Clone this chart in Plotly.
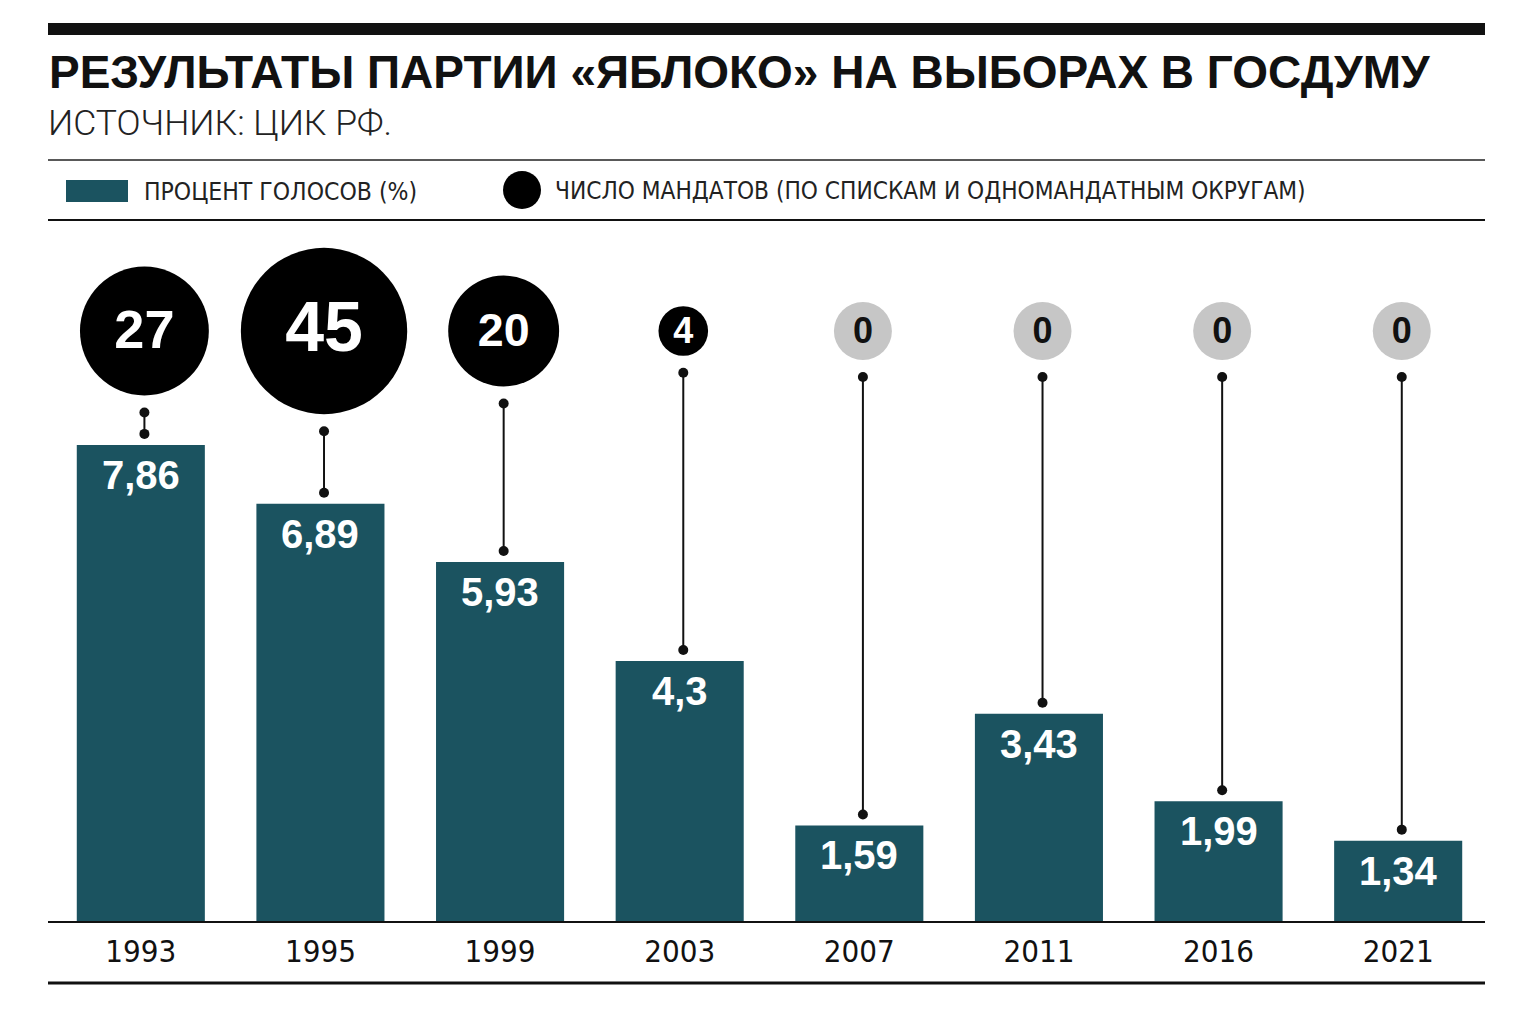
import math
import plotly.graph_objects as go

# Data
years = ["1993", "1995", "1999", "2003", "2007", "2011", "2016", "2021"]
vote_share = [7.86, 6.89, 5.93, 4.3, 1.59, 3.43, 1.99, 1.34]
seats = [27, 45, 20, 4, 0, 0, 0, 0]

title_text = "РЕЗУЛЬТАТЫ ПАРТИИ «ЯБЛОКО» НА ВЫБОРАХ В ГОСДУМУ"
source_text = "ИСТОЧНИК: ЦИК РФ."
legend_bar_text = "ПРОЦЕНТ ГОЛОСОВ (%)"
legend_dot_text = "ЧИСЛО МАНДАТОВ (ПО СПИСКАМ И ОДНОМАНДАТНЫМ ОКРУГАМ)"

# Style
W, H = 1535, 1024
BAR_COLOR = "#1b5360"
GREY = "#c6c6c6"
BOLD = "Liberation Sans, Arial, sans-serif"
NARROW = "Liberation Sans Narrow, DejaVu Sans Condensed, Roboto, sans-serif"
LIGHT = "Roboto, Liberation Sans, sans-serif"

M_L, M_R, M_T, M_B = 51, 47, 230, 102
PX_PER_UNIT = 60.7
plot_h = H - M_T - M_B
plot_w = W - M_L - M_R
y_max = plot_h / PX_PER_UNIT


def py(ypx):
    # pixel row -> paper y
    return (H - M_B - ypx) / plot_h


def px(xpx):
    # pixel column -> paper x
    return (xpx - M_L) / plot_w


def du(pixels):
    # pixels -> data units on y
    return pixels / PX_PER_UNIT


circle_y = du(H - M_B - 331)
x_pos = list(range(len(years)))
circle_dx = 0.02

sizes = [24.8 * math.sqrt(s) if s > 0 else 58 for s in seats]
circle_colors = ["#000000" if s > 0 else GREY for s in seats]
text_colors = ["#ffffff" if s > 0 else "#111111" for s in seats]
text_sizes = [max(36, 0.42 * d) for d in sizes]

fig = go.Figure()

# bars
fig.add_trace(go.Bar(
    x=x_pos, y=vote_share, width=0.713,
    marker=dict(color=BAR_COLOR, line=dict(width=0)),
    hoverinfo="skip", showlegend=False,
))

# connectors between circle and bar
for i, (v, d) in enumerate(zip(vote_share, sizes)):
    top = circle_y - du(d / 2 + 17)
    bottom = v + du(11)
    fig.add_trace(go.Scatter(
        x=[i + circle_dx, i + circle_dx], y=[top, bottom],
        mode="lines+markers",
        line=dict(color="#111111", width=2),
        marker=dict(color="#111111", size=10),
        hoverinfo="skip", showlegend=False,
    ))

# seat circles
fig.add_trace(go.Scatter(
    x=[i + circle_dx for i in x_pos], y=[circle_y] * len(seats),
    mode="markers",
    marker=dict(size=sizes, color=circle_colors, line=dict(width=0), opacity=1),
    hoverinfo="skip", showlegend=False,
))
# seat numbers, nudged a little down to sit optically centred
fig.add_trace(go.Scatter(
    x=[i + circle_dx for i in x_pos], y=[circle_y - du(3)] * len(seats),
    mode="text",
    text=[str(s) for s in seats],
    textposition="middle center",
    textfont=dict(family=BOLD, size=text_sizes, color=text_colors, weight="bold"),
    hoverinfo="skip", showlegend=False,
))

annotations = []
# bar value labels
for i, v in enumerate(vote_share):
    annotations.append(dict(
        x=i, y=v, xref="x", yref="y", yanchor="top", xanchor="center",
        yshift=-6, showarrow=False,
        text="<b>" + str(v).replace(".", ",") + "</b>",
        font=dict(family=BOLD, size=40, color="#ffffff"),
    ))

# title, source, legend
annotations += [
    dict(x=px(47), y=py(72), xref="paper", yref="paper", xanchor="left",
         yanchor="middle", showarrow=False, text="<b>" + title_text + "</b>",
         font=dict(family=BOLD, size=46, color="#111111")),
    dict(x=px(46), y=py(123), xref="paper", yref="paper", xanchor="left",
         yanchor="middle", showarrow=False, text=source_text,
         font=dict(family=LIGHT, size=35.5, color="#222222", weight=300)),
    dict(x=px(142), y=py(191), xref="paper", yref="paper", xanchor="left",
         yanchor="middle", showarrow=False, text=legend_bar_text,
         font=dict(family=NARROW, size=24.5, color="#222222")),
    dict(x=px(553), y=py(191), xref="paper", yref="paper", xanchor="left",
         yanchor="middle", showarrow=False, text=legend_dot_text,
         font=dict(family=NARROW, size=24.2, color="#222222")),
]

shapes = [
    # thick top rule
    dict(type="rect", xref="paper", yref="paper", x0=px(48), x1=px(1485),
         y0=py(23), y1=py(35), fillcolor="#111111", line=dict(width=0)),
    dict(type="line", xref="paper", yref="paper", x0=px(48), x1=px(1485),
         y0=py(160), y1=py(160), line=dict(color="#222222", width=1.5)),
    dict(type="line", xref="paper", yref="paper", x0=px(48), x1=px(1485),
         y0=py(220), y1=py(220), line=dict(color="#111111", width=2)),
    # baseline and bottom rule
    dict(type="line", xref="paper", yref="paper", x0=px(48), x1=px(1485),
         y0=0, y1=0, line=dict(color="#111111", width=2)),
    dict(type="line", xref="paper", yref="paper", x0=px(48), x1=px(1485),
         y0=py(983), y1=py(983), line=dict(color="#111111", width=3)),
    # legend swatches
    dict(type="rect", xref="paper", yref="paper", x0=px(66), x1=px(128),
         y0=py(180), y1=py(202), fillcolor=BAR_COLOR, line=dict(width=0)),
    dict(type="circle", xref="paper", yref="paper", x0=px(503), x1=px(541),
         y0=py(171), y1=py(209), fillcolor="#000000", line=dict(width=0)),
]

fig.update_layout(
    width=W, height=H,
    margin=dict(l=M_L, r=M_R, t=M_T, b=M_B, pad=0),
    paper_bgcolor="#ffffff", plot_bgcolor="#ffffff",
    bargap=0.287,
    annotations=annotations, shapes=shapes,
    xaxis=dict(
        range=[-0.5, len(years) - 0.5], tickvals=x_pos, ticktext=years,
        showgrid=False, zeroline=False, showline=False, ticks="",
        ticklabelstandoff=8,
        tickfont=dict(family=NARROW, size=31, color="#111111"),
        fixedrange=True,
    ),
    yaxis=dict(range=[0, y_max], visible=False, showgrid=False,
               zeroline=False, fixedrange=True),
)

# page margin off, so the figure sits at the window origin
fig.write_html("out.html", config={"displayModeBar": False},
               post_script="document.body.style.margin='0';")
